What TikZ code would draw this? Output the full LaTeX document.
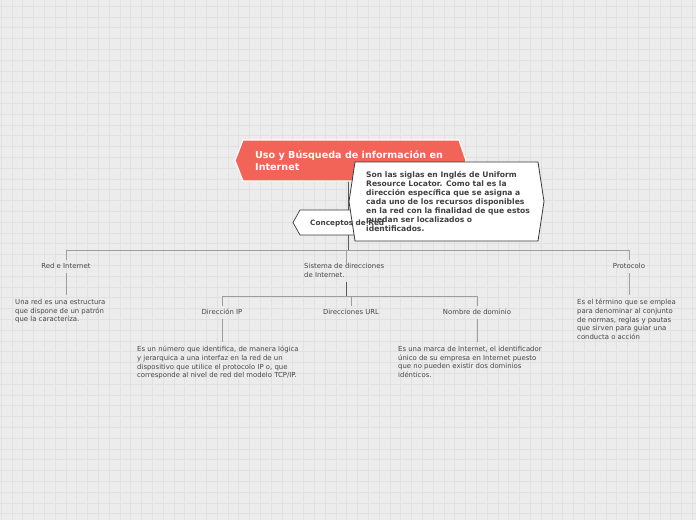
\documentclass[tikz,border=0pt]{standalone}
\usepackage{fontspec}
\setmainfont{DejaVu Sans}
\begin{document}
\begin{tikzpicture}[x=1pt,y=-1pt,
  conn/.style={draw=black!38,line width=0.9pt},
  darkconn/.style={draw=black!65,line width=0.9pt},
  lbl/.style={font=\fontsize{6.9}{8}\selectfont,text=black!72,inner xsep=2pt,inner ysep=3pt,text height=5pt,text depth=1.5pt},
  desc/.style={font=\fontsize{6.9}{8.7}\selectfont,text=black!72,align=left,inner sep=0pt,anchor=north west},
  calltext/.style={font=\bfseries\fontsize{7.6}{9.1}\selectfont,text=black!75,align=left,inner sep=0pt,anchor=north west}]
\definecolor{bg}{HTML}{ECECEC}
\definecolor{gridc}{HTML}{E1E1E1}
\definecolor{titlered}{HTML}{F26457}
\definecolor{boxline}{HTML}{3A3A3A}
\useasboundingbox (0,0) rectangle (696,520);
\fill[bg] (0,0) rectangle (696,520);
\foreach \i in {0,...,65} {\draw[gridc,line width=0.6pt] ({1+10.8*\i},0) -- ({1+10.8*\i},520);}
\foreach \j in {0,...,48} {\draw[gridc,line width=0.6pt] (0,{6+10.8*\j}) -- (696,{6+10.8*\j});}
% coordinates
\coordinate (tb) at (348,181);
\coordinate (j1) at (348,250);
\coordinate (j2) at (346,296);
% labels
\node[lbl] (redlbl) at (66,266.5) {Red e Internet};
\node[lbl] (protlbl) at (629,266.5) {Protocolo};
\node[desc] (sis) at (304,263) {Sistema de direcciones\\de Internet.};
\node[lbl] (iplbl) at (222,312.5) {Dirección IP};
\node[lbl] (urllbl) at (351,312.5) {Direcciones URL};
\node[lbl] (nomlbl) at (477,312.5) {Nombre de dominio};
\node[desc] (reddesc) at (15,299) {Una red es una estructura\\que dispone de un patrón\\que la caracteríza.};
\node[desc] (protdesc) at (577,299) {Es el término que se emplea\\para denominar al conjunto\\de normas, reglas y pautas\\que sirven para guiar una\\conducta o acción};
\node[desc] (ipdesc) at (137,346) {Es un número que identifica, de manera lógica\\y jerarquica a una interfaz en la red de un\\dispositivo que utilice el protocolo IP o, que\\corresponde al nivel de red del modelo TCP/IP.};
\node[desc] (nomdesc) at (398,346) {Es una marca de Internet, el identificador\\único de su empresa en Internet puesto\\que no pueden existir dos dominios\\idénticos.};
% connectors
\draw[darkconn] (tb) -- (j1);
\draw[conn] (redlbl.north) -- (redlbl.north |- j1) -- (protlbl.north |- j1) -- (protlbl.north);
\draw[conn] (j1 -| 346,0) -- ([yshift=-3pt]sis.north -| 346,0);
\draw[conn,shorten >=4pt] (redlbl.south) -- (redlbl.south |- reddesc.north);
\draw[conn,shorten >=4pt] (protlbl.south) -- (protlbl.south |- protdesc.north);
\draw[darkconn,shorten <=5pt] (sis.south -| j2) -- (j2);
\draw[conn] (iplbl.north) -- (iplbl.north |- j2) -- (nomlbl.north |- j2) -- (nomlbl.north);
\draw[conn] (urllbl.north |- j2) -- (urllbl.north);
\draw[conn,shorten >=4pt] (iplbl.south) -- (iplbl.south |- ipdesc.north);
\draw[conn,shorten >=4pt] (nomlbl.south) -- (nomlbl.south |- nomdesc.north);
% title
\filldraw[fill=titlered,draw=white,line width=1.2pt] (243,140) -- (459,140) -- (466,160.5) -- (459,181) -- (243,181) -- (235,160.5) -- cycle;
\node[anchor=north west,inner sep=0pt,align=left,text=white,font=\bfseries\fontsize{9.6}{12}\selectfont] (title) at (255,151) {Uso y Búsqueda de información en\\Internet};
% conceptos box
\filldraw[fill=white,draw=boxline,line width=0.7pt] (300,210) -- (398,210) -- (398,235) -- (300,235) -- (293,222.5) -- cycle;
% callout
\filldraw[fill=white,draw=boxline,line width=0.8pt] (355,162) -- (538,162) -- (544,201.5) -- (538,241) -- (355,241) -- (349,201.5) -- cycle;
\node[calltext] (callout) at (366,171) {Son las siglas en Inglés de Uniform\\Resource Locator. Como tal es la\\dirección específica que se asigna a\\cada uno de los recursos disponibles\\en la red con la finalidad de que estos\\puedan ser localizados o\\identificados.};
\node[anchor=west,inner sep=0pt,text=black!75,font=\bfseries\fontsize{7.3}{8}\selectfont] (conceptos) at (310,223) {Conceptos de Red};
\end{tikzpicture}
\end{document}
